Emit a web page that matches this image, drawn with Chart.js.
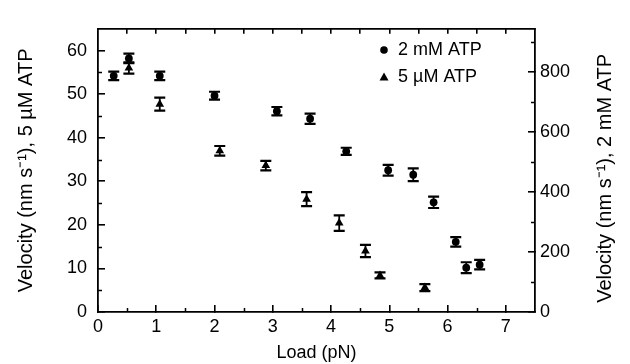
<!DOCTYPE html>
<html><head><meta charset="utf-8">
<script src="https://cdn.jsdelivr.net/npm/chart.js@4/dist/chart.umd.min.js"></script>
<style>html,body{margin:0;padding:0;background:#fff;} #wrap{width:630px;height:364px;position:relative;}</style>
</head><body><div id="wrap"><canvas id="c" width="630" height="364"></canvas></div>
<script>
// ---- data ----
const load2mM = [0.27, 0.53, 1.06, 2.00, 3.07, 3.64, 4.26, 4.98, 5.41, 5.76, 6.14, 6.32, 6.55];
const vel2mM  = [788, 846, 788, 722, 670, 645, 536, 473, 458, 366, 234, 148, 158];
const err2mM  = [14, 16, 14, 13, 14, 17, 12, 18, 21, 19, 16, 18, 16];
const load5uM = [0.53, 1.06, 2.09, 2.88, 3.58, 4.14, 4.59, 4.84, 5.61];
const vel5uM  = [56.0, 47.7, 37.0, 33.6, 25.9, 20.4, 14.0, 8.4, 5.6];
const err5uM  = [1.3, 1.5, 1.1, 1.1, 1.6, 1.8, 1.4, 0.7, 0.8];
const xTicks = [0, 1, 2, 3, 4, 5, 6, 7];
const xMinorTicks = [0.5, 1.5, 2.5, 3.5, 4.5, 5.5, 6.5];
const topTicks = [0.5, 1, 1.5, 2, 2.5, 3, 3.5, 4, 4.5, 5, 5.5, 6, 6.5, 7];
const leftTicks = [0, 10, 20, 30, 40, 50, 60];
const leftMinorTicks = [5, 15, 25, 35, 45, 55];
const rightTicks = [0, 200, 400, 600, 800];
const rightMinorTicks = [100, 300, 500, 700, 900];
const seriesLabels = ['2 mM ATP', '5 \u00B5M ATP'];
const xTitle = 'Load (pN)';
const leftTitle = 'Velocity (nm s\u207B\u00B9), 5 \u00B5M ATP';
const rightTitle = 'Velocity (nm s\u207B\u00B9), 2 mM ATP';

const FONT = "'Liberation Sans', Arial, Helvetica, sans-serif";
Chart.defaults.font.family = FONT;
Chart.defaults.font.size = 18;
Chart.defaults.color = '#000';

const pts = (xs, ys) => xs.map((x, i) => ({x: x, y: ys[i]}));

const extras = {
  id: 'extras',
  afterDatasetsDraw(chart) {
    const ctx = chart.ctx, x = chart.scales.x, y = chart.scales.y, y2 = chart.scales.y2;
    ctx.save();
    ctx.strokeStyle = '#000';
    const bars = (xs, vs, es, sc) => {
      for (let i = 0; i < xs.length; i++) {
        const px = x.getPixelForValue(xs[i]);
        const t = sc.getPixelForValue(vs[i] + es[i]);
        const b = sc.getPixelForValue(vs[i] - es[i]);
        ctx.lineWidth = 1.8;
        ctx.beginPath(); ctx.moveTo(px, t); ctx.lineTo(px, b); ctx.stroke();
        ctx.lineWidth = 2.2;
        ctx.beginPath(); ctx.moveTo(px - 5.5, t); ctx.lineTo(px + 5.5, t);
        ctx.moveTo(px - 5.5, b); ctx.lineTo(px + 5.5, b); ctx.stroke();
      }
    };
    bars(load2mM, vel2mM, err2mM, y2);
    bars(load5uM, vel5uM, err5uM, y);
    ctx.restore();
  },
  afterDraw(chart) {
    const ctx = chart.ctx, a = chart.chartArea;
    const x = chart.scales.x, y = chart.scales.y, y2 = chart.scales.y2;
    ctx.save();
    ctx.strokeStyle = '#000';
    ctx.lineWidth = 1.5;
    ctx.beginPath();
    xMinorTicks.forEach(v => { const p = Math.round(x.getPixelForValue(v)) + 0.5; ctx.moveTo(p, a.bottom); ctx.lineTo(p, a.bottom - 4); });
    leftMinorTicks.forEach(v => { const p = Math.round(y.getPixelForValue(v)) + 0.5; ctx.moveTo(a.left, p); ctx.lineTo(a.left + 4, p); });
    rightMinorTicks.forEach(v => { const p = Math.round(y2.getPixelForValue(v)) + 0.5; ctx.moveTo(a.right, p); ctx.lineTo(a.right - 4, p); });
    ctx.stroke();
    // legend
    ctx.fillStyle = '#000';
    ctx.beginPath(); ctx.arc(384, 50, 3.8, 0, Math.PI * 2); ctx.fill();
    ctx.beginPath(); ctx.moveTo(384, 72.5); ctx.lineTo(388.5, 80.5); ctx.lineTo(379.5, 80.5); ctx.closePath(); ctx.fill();
    ctx.font = '18px ' + FONT;
    ctx.textBaseline = 'middle';
    ctx.textAlign = 'left';
    ctx.fillText(seriesLabels[0], 398, 50);
    ctx.fillText(seriesLabels[1], 398, 77);
    // right axis title, reading bottom-to-top like the reference
    ctx.font = '20px ' + FONT;
    ctx.textAlign = 'center';
    ctx.translate(605, (a.top + a.bottom) / 2 + 8);
    ctx.rotate(-Math.PI / 2);
    ctx.fillText(rightTitle, 0, 0);
    ctx.restore();
  }
};

const axisGrid = (len) => ({ drawOnChartArea: false, drawTicks: true, tickLength: len, color: '#000', lineWidth: 1.6 });
const axisBorder = { display: true, color: '#000', width: 1.8 };

new Chart(document.getElementById('c'), {
  type: 'scatter',
  data: {
    datasets: [
      { label: seriesLabels[0], data: pts(load2mM, vel2mM), yAxisID: 'y2', xAxisID: 'x',
        pointStyle: 'circle', pointRadius: 3.9, backgroundColor: '#000', borderColor: '#000', borderWidth: 0 },
      { label: seriesLabels[1], data: pts(load5uM, vel5uM), yAxisID: 'y', xAxisID: 'x',
        pointStyle: 'triangle', pointRadius: 5, backgroundColor: '#000', borderColor: '#000', borderWidth: 0 }
    ]
  },
  options: {
    responsive: false,
    animation: false,
    devicePixelRatio: 1,
    layout: { padding: { left: 0, right: 0, top: 0, bottom: 0 } },
    plugins: { legend: { display: false }, tooltip: { enabled: false } },
    scales: {
      x: {
        type: 'linear', position: 'bottom', min: 0, max: 7.5,
        afterBuildTicks: s => { s.ticks = xTicks.map(v => ({value: v})); },
        afterFit: s => { s.height = 52; },
        grid: axisGrid(-7), border: axisBorder,
        ticks: { padding: 11, maxRotation: 0, font: { size: 18 } },
        title: { display: true, text: xTitle, font: { size: 18 }, padding: { top: 0, bottom: 0 } }
      },
      xTop: {
        type: 'linear', position: 'top', min: 0, max: 7.5,
        afterBuildTicks: s => { s.ticks = topTicks.map(v => ({value: v})); },
        afterFit: s => { s.height = 12; },
        grid: axisGrid(-5), border: axisBorder,
        ticks: { display: false }
      },
      y: {
        type: 'linear', position: 'left', min: 0, max: 65,
        afterBuildTicks: s => { s.ticks = leftTicks.map(v => ({value: v})); },
        afterFit: s => { s.width = 98; },
        grid: axisGrid(-7), border: axisBorder,
        ticks: { padding: 18, font: { size: 18 } },
        title: { display: true, text: leftTitle, font: { size: 20 }, padding: { top: 14, bottom: 0 } }
      },
      y2: {
        type: 'linear', position: 'right', min: 0, max: 945,
        afterBuildTicks: s => { s.ticks = rightTicks.map(v => ({value: v})); },
        afterFit: s => { s.width = 95; },
        grid: axisGrid(-7), border: axisBorder,
        ticks: { padding: 12, font: { size: 18 } },
        title: { display: false }
      }
    }
  },
  plugins: [extras]
});
</script>
</body></html>
